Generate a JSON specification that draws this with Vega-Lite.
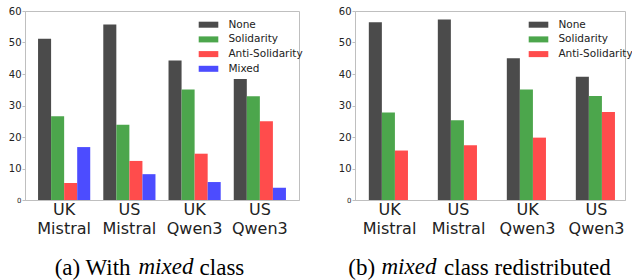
{
  "$schema": "https://vega.github.io/schema/vega-lite/v6.json",
  "background": "white",
  "padding": {"left": 7, "top": 5, "right": 0, "bottom": 0},
  "spacing": 56,
  "bounds": "flush",
  "datasets": {
    "a": [
      {"group": "UK Mistral", "cat": "None", "value": 51.2},
      {"group": "UK Mistral", "cat": "Solidarity", "value": 26.6},
      {"group": "UK Mistral", "cat": "Anti-Solidarity", "value": 5.4},
      {"group": "UK Mistral", "cat": "Mixed", "value": 16.8},
      {"group": "US Mistral", "cat": "None", "value": 55.7},
      {"group": "US Mistral", "cat": "Solidarity", "value": 23.9},
      {"group": "US Mistral", "cat": "Anti-Solidarity", "value": 12.4},
      {"group": "US Mistral", "cat": "Mixed", "value": 8.2},
      {"group": "UK Qwen3", "cat": "None", "value": 44.3},
      {"group": "UK Qwen3", "cat": "Solidarity", "value": 35.1},
      {"group": "UK Qwen3", "cat": "Anti-Solidarity", "value": 14.7},
      {"group": "UK Qwen3", "cat": "Mixed", "value": 5.7},
      {"group": "US Qwen3", "cat": "None", "value": 38.4},
      {"group": "US Qwen3", "cat": "Solidarity", "value": 32.9},
      {"group": "US Qwen3", "cat": "Anti-Solidarity", "value": 25.0},
      {"group": "US Qwen3", "cat": "Mixed", "value": 3.9}
    ],
    "b": [
      {"group": "UK Mistral", "cat": "None", "value": 56.4},
      {"group": "UK Mistral", "cat": "Solidarity", "value": 27.8},
      {"group": "UK Mistral", "cat": "Anti-Solidarity", "value": 15.7},
      {"group": "US Mistral", "cat": "None", "value": 57.3},
      {"group": "US Mistral", "cat": "Solidarity", "value": 25.3},
      {"group": "US Mistral", "cat": "Anti-Solidarity", "value": 17.4},
      {"group": "UK Qwen3", "cat": "None", "value": 45.0},
      {"group": "UK Qwen3", "cat": "Solidarity", "value": 35.1},
      {"group": "UK Qwen3", "cat": "Anti-Solidarity", "value": 19.8},
      {"group": "US Qwen3", "cat": "None", "value": 39.1},
      {"group": "US Qwen3", "cat": "Solidarity", "value": 33.0},
      {"group": "US Qwen3", "cat": "Anti-Solidarity", "value": 27.9}
    ]
  },
  "config": {
    "view": {"stroke": "#bfbfbf", "strokeWidth": 1},
    "axis": {
      "domainColor": "#bfbfbf",
      "tickColor": "#bfbfbf",
      "labelColor": "#222222",
      "titleColor": "#222222",
      "labelFont": "DejaVu Sans",
      "titleFont": "DejaVu Sans",
      "grid": false
    },
    "axisY": {
      "values": [0, 10, 20, 30, 40, 50, 60],
      "title": "Percentage",
      "titleFontSize": 10,
      "titleFontWeight": "normal",
      "titleX": -17,
      "titleBaseline": "alphabetic",
      "labelFontSize": {"condition": {"test": "datum.value === 0", "value": 7}, "value": 10},
      "tickSize": 3,
      "labelPadding": 1
    },
    "axisX": {
      "labelAngle": 0,
      "labelExpr": "split(datum.label, ' ')",
      "labelFontSize": 16,
      "labelLineHeight": 19,
      "ticks": false,
      "tickSize": 0,
      "labelPadding": 1,
      "titleFont": "Liberation Serif",
      "titleFontSize": 23,
      "titleFontWeight": "normal",
      "titleColor": "black",
      "titleX": 124,
      "titleY": 74,
      "titleBaseline": "alphabetic",
      "titleAlign": "center"
    },
    "legend": {
      "orient": "none",
      "legendX": 176.5,
      "legendY": 6.7,
      "symbolType": "M-1.4,-0.43H1.4V0.43H-1.4Z",
      "symbolSize": 196,
      "symbolStrokeWidth": 0,
      "symbolOpacity": 1,
      "labelFont": "DejaVu Sans",
      "labelFontSize": 10.5,
      "labelColor": "#222222",
      "labelOffset": 12.9,
      "rowPadding": 1.7,
      "padding": 0
    },
    "title": {
      "orient": "bottom",
      "frame": "group",
      "anchor": "start",
      "offset": -23,
      "baseline": "alphabetic",
      "font": "Liberation Serif",
      "fontSize": 23,
      "fontStyle": "italic",
      "fontWeight": "normal",
      "color": "black"
    }
  },
  "hconcat": [
    {
      "width": 274,
      "height": 189,
      "data": {"name": "a"},
      "title": {"text": "mixed", "dx": 113.5},
      "mark": {"type": "bar"},
      "encoding": {
        "x": {
          "field": "group", "type": "nominal",
          "sort": ["UK Mistral", "US Mistral", "UK Qwen3", "US Qwen3"],
          "scale": {"paddingInner": 0.2, "paddingOuter": 0.2},
          "axis": {"title": "(a) With\u00a0\u00a0\u00a0\u00a0\u00a0\u00a0\u00a0\u00a0\u00a0\u00a0\u00a0\u00a0class"}
        },
        "xOffset": {
          "field": "cat", "type": "nominal",
          "sort": ["None", "Solidarity", "Anti-Solidarity", "Mixed"],
          "scale": {"paddingInner": 0, "paddingOuter": 0}
        },
        "y": {"field": "value", "type": "quantitative", "scale": {"domain": [0, 60]}},
        "color": {
          "field": "cat", "type": "nominal",
          "scale": {
            "domain": ["None", "Solidarity", "Anti-Solidarity", "Mixed"],
            "range": ["#4b4b4b", "#4ca64c", "#ff4c4c", "#4c4cff"]
          },
          "legend": {"title": null}
        }
      }
    },
    {
      "width": 270,
      "height": 189,
      "data": {"name": "b"},
      "title": {"text": "mixed", "dx": 26.5},
      "mark": {"type": "bar"},
      "encoding": {
        "x": {
          "field": "group", "type": "nominal",
          "sort": ["UK Mistral", "US Mistral", "UK Qwen3", "US Qwen3"],
          "scale": {"paddingInner": 0.4, "paddingOuter": 0.1565, "align": 0.64},
          "axis": {"title": "(b)\u00a0\u00a0\u00a0\u00a0\u00a0\u00a0\u00a0\u00a0\u00a0\u00a0\u00a0\u00a0class redistributed"}
        },
        "xOffset": {
          "field": "cat", "type": "nominal",
          "sort": ["None", "Solidarity", "Anti-Solidarity"],
          "scale": {"paddingInner": 0, "paddingOuter": 0}
        },
        "y": {"field": "value", "type": "quantitative", "scale": {"domain": [0, 60]}},
        "color": {
          "field": "cat", "type": "nominal",
          "scale": {
            "domain": ["None", "Solidarity", "Anti-Solidarity"],
            "range": ["#4b4b4b", "#4ca64c", "#ff4c4c"]
          },
          "legend": {"title": null}
        }
      }
    }
  ],
  "resolve": {"scale": {"color": "independent"}}
}
